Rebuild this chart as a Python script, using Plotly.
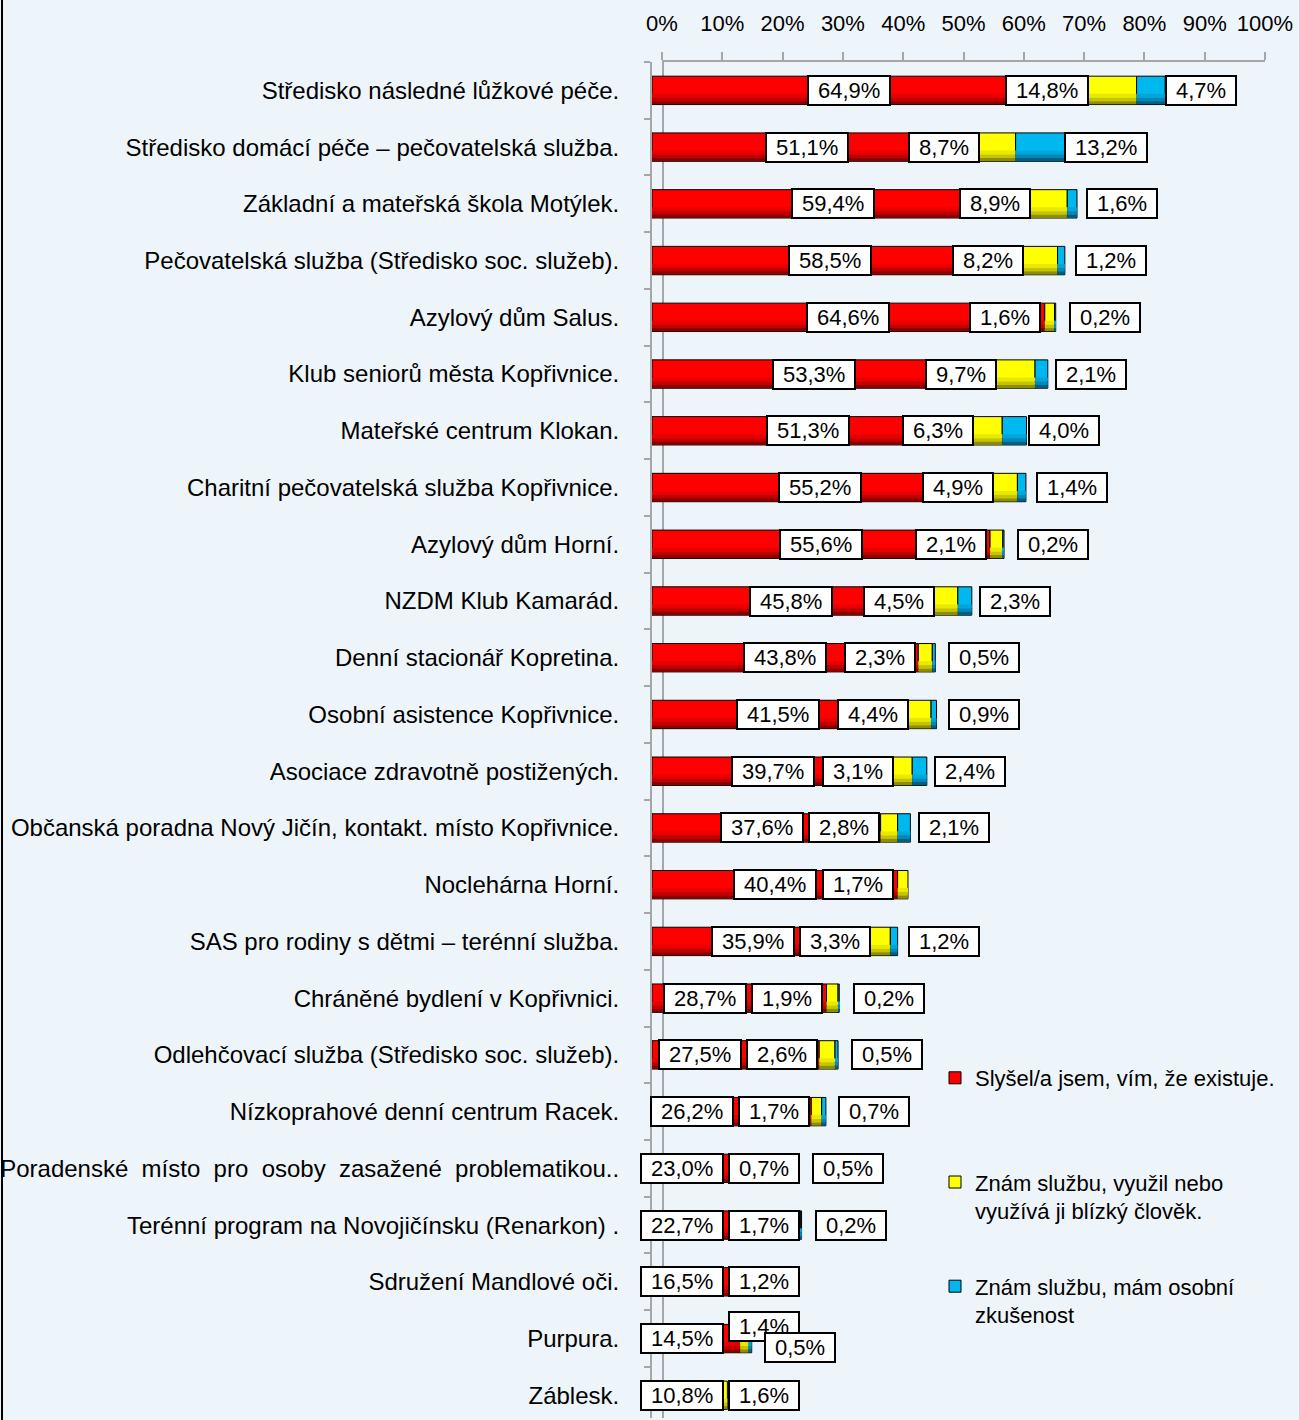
import plotly.graph_objects as go

# ---------------- data ----------------
categories = [
    "Středisko následné lůžkové péče.",
    "Středisko domácí péče – pečovatelská služba.",
    "Základní a mateřská škola Motýlek.",
    "Pečovatelská služba (Středisko soc. služeb).",
    "Azylový dům Salus.",
    "Klub seniorů města Kopřivnice.",
    "Mateřské centrum Klokan.",
    "Charitní pečovatelská služba Kopřivnice.",
    "Azylový dům Horní.",
    "NZDM Klub Kamarád.",
    "Denní stacionář Kopretina.",
    "Osobní asistence Kopřivnice.",
    "Asociace zdravotně postižených.",
    "Občanská poradna Nový Jičín, kontakt. místo Kopřivnice.",
    "Noclehárna Horní.",
    "SAS pro rodiny s dětmi – terénní služba.",
    "Chráněné bydlení v Kopřivnici.",
    "Odlehčovací služba (Středisko soc. služeb).",
    "Nízkoprahové denní centrum Racek.",
    "Poradenské\u00a0 místo\u00a0 pro\u00a0 osoby\u00a0 zasažené\u00a0 problematikou..",
    "Terénní program na Novojičínsku (Renarkon) .",
    "Sdružení Mandlové oči.",
    "Purpura.",
    "Záblesk.",
]
heard = [64.9, 51.1, 59.4, 58.5, 64.6, 53.3, 51.3, 55.2, 55.6, 45.8, 43.8, 41.5,
         39.7, 37.6, 40.4, 35.9, 28.7, 27.5, 26.2, 23.0, 22.7, 16.5, 14.5, 10.8]
close_person = [14.8, 8.7, 8.9, 8.2, 1.6, 9.7, 6.3, 4.9, 2.1, 4.5, 2.3, 4.4,
                3.1, 2.8, 1.7, 3.3, 1.9, 2.6, 1.7, 0.7, 1.7, 1.2, 1.4, 1.6]
personal = [4.7, 13.2, 1.6, 1.2, 0.2, 2.1, 4.0, 1.4, 0.2, 2.3, 0.5, 0.9,
            2.4, 2.1, None, 1.2, 0.2, 0.5, 0.7, 0.5, 0.2, None, 0.5, None]

series_names = [
    "Slyšel/a jsem, vím, že existuje.<br>\u00a0",
    "Znám službu, využil nebo<br>využívá ji blízký člověk.",
    "Znám službu, mám osobní<br>zkušenost",
]
tick_values = [0, 10, 20, 30, 40, 50, 60, 70, 80, 90, 100]
tick_labels = ["0%", "10%", "20%", "30%", "40%", "50%", "60%", "70%", "80%", "90%", "100%"]

# ---------------- style ----------------
colors = ["#FF0000", "#FFFF00", "#00B8F0"]
shades = [
    ["#E80000", "#C00000", "#8A0000"],
    ["#E8E800", "#C4C400", "#8E8E00"],
    ["#00A6DA", "#0088B8", "#005F84"],
]
BG = "#EEF5FA"
FONT = "Liberation Sans, Arial, sans-serif"
W, H = 1299, 1420
ML, MR, MT, MB = 652, 34, 62, 2
PLOT_W = W - ML - MR           # 613 px: front edge of bars .. back wall end
PLOT_H = H - MT - MB
PX = 6.08                      # pixels per percent for the bars
WALL = 10                      # 3-D depth offset of the back-wall axis (px)
LABEL_SHIFT = [0, -45, 50]     # Excel-like label offsets per series (px)
LABEL_FONT = 22
MIN_LEFT = 640 - ML            # leftmost allowed label edge (px from plot left)
MAX_RED_MOVE = 40
CHAR_W = {"%": 0.889, ",": 0.278}

series = [heard, close_person, personal]

# cumulative bases derived from the data
bases = []
run = [0.0] * len(categories)
for vals in series:
    bases.append(list(run))
    run = [r + (v or 0.0) for r, v in zip(run, vals)]

fig = go.Figure()
# empty trace so that the back-wall percentage axis (x2) is drawn (first => underneath)
fig.add_trace(go.Scatter(x=[], y=[], xaxis="x2", yaxis="y", showlegend=False,
                         hoverinfo="skip"))
for k, (name, vals, col) in enumerate(zip(series_names, series, colors)):
    fig.add_trace(go.Bar(
        y=categories, x=vals, base=bases[k], orientation="h", name=name,
        legendgroup=str(k),
        marker=dict(color=col, line=dict(color="#000000", width=1)),
        width=0.5, offset=-0.25, hoverinfo="skip",
    ))
# cylinder-like shading bands along the lower edge of each segment
for k, vals in enumerate(series):
    for (off, wd), c in zip(((0.06, 0.07), (0.13, 0.06), (0.19, 0.055)), shades[k]):
        fig.add_trace(go.Bar(
            y=categories, x=vals, base=bases[k], orientation="h",
            marker=dict(color=c, line=dict(width=0)),
            width=wd, offset=off, hoverinfo="skip", showlegend=False,
        ))


def fmt(v):
    return f"{v:.1f}".replace(".", ",") + "%"


def box_w(t):
    # inner width of the label box (text + side padding)
    return sum(CHAR_W.get(c, 0.556) for c in t) * LABEL_FONT + 16


annotations = []
for i, cat in enumerate(categories):
    labs = []
    for k, vals in enumerate(series):
        v = vals[i]
        if v is None:
            continue
        t = fmt(v)
        labs.append(dict(t=t, w=box_w(t) + 6, k=k,
                         c=(bases[k][i] + v / 2.0) * PX + LABEL_SHIFT[k], dy=0))
    # red label moves left away from the yellow one, then yellow moves right if needed
    if len(labs) >= 2:
        a, b = labs[0], labs[1]
        need = a["w"] / 2 + 4 + b["w"] / 2
        if b["c"] - a["c"] < need:
            lim = max(MIN_LEFT + a["w"] / 2, a["c"] - MAX_RED_MOVE)
            a["c"] = max(b["c"] - need, lim)
            b["c"] = max(b["c"], a["c"] + need)
    # yellow/blue collision -> vertical separation
    if len(labs) == 3:
        b, c = labs[1], labs[2]
        if c["c"] - b["c"] < b["w"] / 2 + 4 + c["w"] / 2:
            b["dy"], c["dy"] = 12, -9
    for L in labs:
        annotations.append(dict(
            x=L["c"] / PX, y=cat, xref="x", yref="y", text=L["t"], showarrow=False,
            yshift=L["dy"],
            font=dict(family=FONT, size=LABEL_FONT, color="#000000"),
            bgcolor="#FFFFFF", bordercolor="#000000", borderwidth=2,
            borderpad=1, width=L["w"] - 6, height=25, align="center",
        ))

shapes = [
    # back wall edge line
    dict(type="line", xref="paper", yref="paper", x0=(WALL + 1) / PLOT_W, x1=(WALL + 1) / PLOT_W,
         y0=0, y1=1, line=dict(color="#A6A6A6", width=2), layer="below"),
    # outer frame on the left
    dict(type="line", xref="paper", yref="paper", x0=(2 - ML) / PLOT_W, x1=(2 - ML) / PLOT_W,
         y0=-MB / PLOT_H, y1=(H - MB) / PLOT_H,
         line=dict(color="#000000", width=2)),
]

fig.update_layout(
    width=W, height=H,
    margin=dict(l=ML, r=MR, t=MT, b=MB, autoexpand=False),
    paper_bgcolor=BG, plot_bgcolor="rgba(0,0,0,0)",
    barmode="overlay",
    font=dict(family=FONT, color="#000000"),
    annotations=annotations, shapes=shapes,
    showlegend=True,
    legend=dict(
        x=(935 - ML) / PLOT_W, xanchor="left",
        y=(H - MB - 1057) / PLOT_H, yanchor="top",
        bgcolor="rgba(0,0,0,0)", font=dict(family=FONT, size=22, color="#000000"),
        traceorder="grouped", tracegroupgap=44, valign="top",
    ),
    # front (bar) axis – not drawn
    xaxis=dict(range=[0, PLOT_W / PX], visible=False, fixedrange=True),
    # back-wall percentage axis drawn at the top
    xaxis2=dict(
        domain=[WALL / PLOT_W, 1], anchor="y", side="top", range=[0, 100],
        tickvals=tick_values, ticktext=tick_labels,
        tickfont=dict(family=FONT, size=22, color="#000000"),
        showline=True, linecolor="#A6A6A6", linewidth=2,
        ticks="outside", ticklen=8, tickcolor="#A6A6A6", tickwidth=2,
        ticklabelstandoff=12,
        showgrid=False, zeroline=False, fixedrange=True,
    ),
    yaxis=dict(
        type="category", categoryorder="array", categoryarray=categories,
        range=[23.4, -0.5],
        tickfont=dict(family=FONT, size=24, color="#000000"),
        showline=True, linecolor="#A6A6A6", linewidth=2,
        ticks="outside", tickson="boundaries", ticklen=6, tickcolor="#A6A6A6", tickwidth=2,
        ticklabelstandoff=26,
        showgrid=False, zeroline=False, fixedrange=True,
    ),
)

fig.write_html(
    "out.html",
    config={"displayModeBar": False},
    post_script="document.body.style.margin='0px';document.body.style.background='%s';" % BG,
)
